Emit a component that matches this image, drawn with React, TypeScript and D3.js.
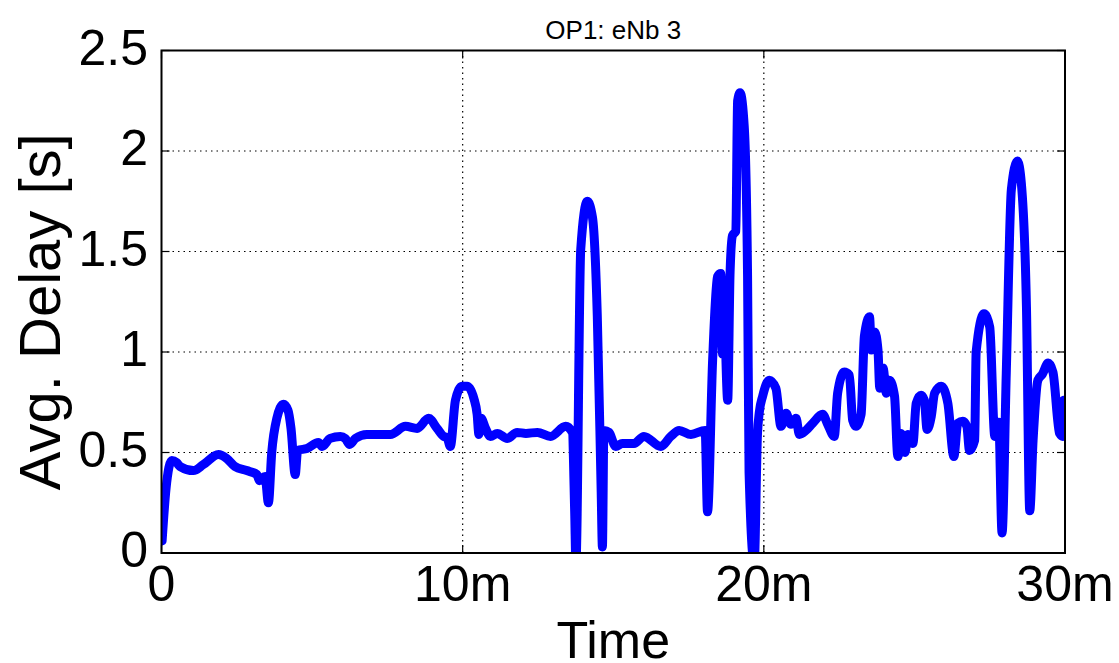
import React from "react";
import * as d3 from "d3";

const title = "OP1: eNb 3";
const xLabel = "Time";
const yLabel = "Avg. Delay [s]";

const xTicks = [0, 10, 20, 30];
const xTickLabels = ["0", "10m", "20m", "30m"];
const yTicks = [0, 0.5, 1, 1.5, 2, 2.5];
const yTickLabels = ["0", "0.5", "1", "1.5", "2", "2.5"];

// time in minutes
const times = [
  0.02, 0.15, 0.34, 0.5, 0.62, 1.06, 1.39, 1.89, 2.17, 2.44, 2.83, 3.17, 3.25, 3.44, 3.55, 3.66, 3.83, 4.05, 4.2, 4.3,
  4.44, 4.52, 4.83, 5.21, 5.33, 5.6, 5.94, 6.1, 6.25, 6.44, 6.82, 7.38, 7.6, 8.1, 8.49, 8.87, 9.15, 9.37, 9.48, 9.59,
  9.76, 9.98, 10.15, 10.37, 10.48, 10.54, 10.61, 10.76, 10.92, 11.15, 11.48, 11.81, 12.1, 12.48, 12.92, 13.42, 13.64, 13.72, 13.76, 13.92,
  14.14, 14.31, 14.47, 14.6, 14.64, 14.69, 14.86, 15.08, 15.3, 15.69, 16.02, 16.58, 16.91, 17.19, 17.58, 18.05, 18.13, 18.3, 18.46, 18.57,
  18.63, 18.68, 18.8, 18.88, 18.96, 19.07, 19.13, 19.21, 19.35, 19.46, 19.51, 19.68, 19.79, 19.85, 19.96, 20.18, 20.4, 20.57, 20.74, 20.9,
  21.07, 21.18, 21.4, 21.62, 21.95, 22.12, 22.34, 22.45, 22.67, 22.84, 22.95, 23.06, 23.23, 23.34, 23.51, 23.57, 23.68, 23.79, 23.85, 23.96,
  24.07, 24.17, 24.34, 24.45, 24.56, 24.69, 24.78, 24.95, 25.06, 25.22, 25.33, 25.42, 25.56, 25.67, 25.89, 26.11, 26.31, 26.44, 26.61, 26.74,
  26.83, 27.0, 27.05, 27.31, 27.5, 27.67, 27.8, 27.91, 28.05, 28.22, 28.42, 28.55, 28.72, 28.83, 28.94, 29.1, 29.25, 29.44, 29.6, 29.82,
  29.93, 29.96,
];
// average delay in seconds
const delays = [
  0.06, 0.32, 0.46, 0.45, 0.43, 0.41, 0.44, 0.49, 0.47, 0.43, 0.41, 0.39, 0.36, 0.38, 0.25, 0.5, 0.67, 0.74, 0.71, 0.62,
  0.39, 0.51, 0.52, 0.55, 0.53, 0.57, 0.58, 0.57, 0.54, 0.57, 0.59, 0.59, 0.59, 0.63, 0.62, 0.67, 0.62, 0.58, 0.575, 0.53,
  0.76, 0.83, 0.83, 0.77, 0.69, 0.59, 0.67, 0.62, 0.58, 0.595, 0.57, 0.6, 0.595, 0.6, 0.58, 0.63, 0.6, 0.2, -0.05, 1.51,
  1.75, 1.67, 1.18, 0.3, 0.03, 0.61, 0.6, 0.53, 0.545, 0.545, 0.58, 0.53, 0.58, 0.61, 0.59, 0.61, 0.205, 0.96, 1.375, 1.39,
  0.99, 1.18, 0.76, 1.4, 1.58, 1.6, 2.25, 2.29, 2.12, 1.375, 0.4, -0.05, 0.595, 0.7, 0.78, 0.86, 0.82, 0.63, 0.695, 0.64,
  0.67, 0.59, 0.61, 0.645, 0.69, 0.64, 0.58, 0.795, 0.9, 0.885, 0.66, 0.63, 0.69, 1.08, 1.175, 1.01, 1.1, 1.01, 0.82, 0.92,
  0.795, 0.86, 0.78, 0.48, 0.595, 0.5, 0.59, 0.545, 0.745, 0.785, 0.76, 0.615, 0.68, 0.795, 0.83, 0.745, 0.48, 0.645, 0.655, 0.63,
  0.51, 0.56, 1.0, 1.19, 1.125, 0.58, 0.65, 0.1, 0.895, 1.81, 1.95, 1.84, 1.225, 0.21, 0.56, 0.86, 0.89, 0.945, 0.9, 0.595,
  0.58, 0.76,
];

const W = 1119;
const H = 663;
const M = { left: 161.5, right: 1065, top: 50.5, bottom: 553 };
const FONT = "'Liberation Sans', Arial, Helvetica, sans-serif";

export default function App() {
  const x = d3.scaleLinear().domain([0, 30]).range([M.left, M.right]);
  const y = d3.scaleLinear().domain([0, 2.5]).range([M.bottom, M.top]);
  const pts: [number, number][] = times.map((t, i) => [t, delays[i]]);
  const line = d3
    .line<[number, number]>()
    .x((d) => x(d[0]))
    .y((d) => y(d[1]))
    .curve(d3.curveMonotoneX);

  const gridX = xTicks.filter((t) => t > 0 && t < 30);
  const gridY = yTicks.filter((t) => t > 0 && t < 2.5);

  return (
    <svg
      width={W}
      height={H}
      style={{ position: "absolute", left: 0, top: 0, background: "#fff" }}
      fontFamily={FONT}
    >
      <rect x={0} y={0} width={W} height={H} fill="#fff" />
      <defs>
        <clipPath id="plotclip">
          <rect x={M.left} y={M.top} width={M.right - M.left} height={M.bottom - M.top} />
        </clipPath>
      </defs>
      {gridX.map((t) => (
        <line key={"gx" + t} x1={x(t)} x2={x(t)} y1={M.top} y2={M.bottom} stroke="#000" strokeWidth={1.2} strokeDasharray="1.5,4" />
      ))}
      {gridY.map((t) => (
        <line key={"gy" + t} x1={M.left} x2={M.right} y1={y(t)} y2={y(t)} stroke="#000" strokeWidth={1.2} strokeDasharray="1.5,4" />
      ))}
      <path
        d={line(pts) || ""}
        fill="none"
        stroke="#0000ff"
        strokeWidth={9}
        strokeLinejoin="round"
        strokeLinecap="round"
        clipPath="url(#plotclip)"
      />
      {xTicks.map((t) => (
        <g key={"xt" + t}>
          <line x1={x(t)} x2={x(t)} y1={M.bottom} y2={M.bottom - 8} stroke="#000" strokeWidth={1.2} />
          <line x1={x(t)} x2={x(t)} y1={M.top} y2={M.top + 8} stroke="#000" strokeWidth={1.2} />
        </g>
      ))}
      {yTicks.map((t) => (
        <g key={"yt" + t}>
          <line x1={M.left} x2={M.left + 8} y1={y(t)} y2={y(t)} stroke="#000" strokeWidth={1.2} />
          <line x1={M.right} x2={M.right - 8} y1={y(t)} y2={y(t)} stroke="#000" strokeWidth={1.2} />
        </g>
      ))}
      <rect x={M.left} y={M.top} width={M.right - M.left} height={M.bottom - M.top} fill="none" stroke="#000" strokeWidth={2} />
      {xTicks.map((t, i) => (
        <text key={"xl" + t} x={x(t)} y={601} textAnchor="middle" fontSize={50} fill="#000">
          {xTickLabels[i]}
        </text>
      ))}
      {yTicks.map((t, i) => (
        <text key={"yl" + t} x={148} y={y(t) + 14} textAnchor="end" fontSize={50} fill="#000">
          {yTickLabels[i]}
        </text>
      ))}
      <text x={(M.left + M.right) / 2} y={658} textAnchor="middle" fontSize={52} fill="#000">
        {xLabel}
      </text>
      <text
        transform={`translate(60, ${(M.top + M.bottom) / 2 + 10}) rotate(-90)`}
        textAnchor="middle"
        fontSize={58}
        fill="#000"
      >
        {yLabel}
      </text>
      <text x={(M.left + M.right) / 2} y={39} textAnchor="middle" fontSize={26} fill="#000">
        {title}
      </text>
    </svg>
  );
}
